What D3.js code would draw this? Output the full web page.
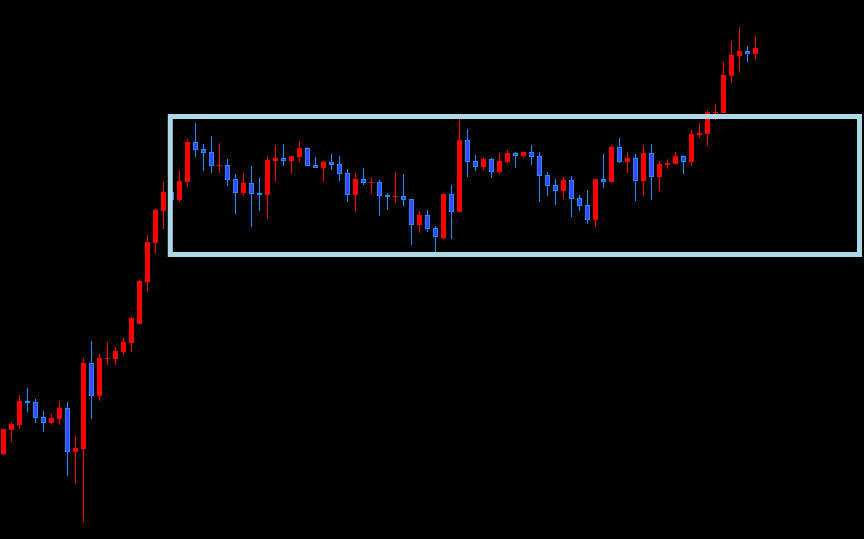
<!DOCTYPE html>
<html><head><meta charset="utf-8">
<script src="https://cdn.jsdelivr.net/npm/d3@7/dist/d3.min.js"></script>
<style>html,body{margin:0;padding:0;background:#000;overflow:hidden}svg{display:block}</style>
</head><body>
<script>
const opens  = [86,110,115,139,138,123,117,121,132,88,91,177,144,181,181,188,197,216,258,297,329,348,340,358,398,391,388,374,375,361,347,357,347,345,379,382,379,383,392,375,372,378,376,367,345,361,357,358,345,343,344,341,315,325,312,302,346,328,400,379,373,381,368,378,387,384,388,384,365,355,349,360,342,335,320,361,358,393,378,382,359,387,363,375,376,384,378,405,406,427,427,464,484,489,486];
const highs  = [111,118,145,152,141,129,126,139,138,104,182,199,186,198,193,202,223,261,305,331,358,351,370,401,417,396,404,397,381,366,367,374,362,384,395,396,384,399,393,383,379,386,384,371,367,372,362,360,347,368,366,341,329,330,314,346,355,422,411,385,383,382,387,390,388,388,395,388,368,361,363,364,345,350,361,386,395,402,388,386,395,396,379,381,388,385,410,417,430,436,478,499,513,494,504];
const lows   = [85,98,111,128,117,108,115,115,64,56,18,121,139,175,175,185,188,216,248,286,311,337,338,353,383,369,367,367,354,326,344,313,329,321,358,374,366,378,374,372,358,370,359,338,328,355,346,324,330,337,334,295,307,308,287,301,301,328,363,369,370,362,366,377,372,382,375,338,344,335,341,323,329,316,313,352,358,377,367,339,344,340,349,371,376,366,374,402,394,420,427,457,467,478,480];
const closes = [111,116,139,137,122,117,122,132,88,92,177,144,182,182,189,198,222,259,298,330,348,340,359,398,390,387,374,375,360,347,357,346,346,380,382,379,384,392,374,372,378,375,366,345,361,357,358,344,343,344,340,315,325,311,303,346,328,400,378,373,381,368,379,387,384,388,383,364,354,349,360,341,334,320,361,358,393,378,382,359,387,363,376,377,384,378,406,407,428,428,465,485,489,486,492];
const rangeBox = {startIndex: 20.85, endIndex: 107, top: 423.5, bottom: 285.5};

const W = 864, H = 539;
const svg = d3.select("body").append("svg").attr("width", W).attr("height", H);
svg.append("rect").attr("width", W).attr("height", H).attr("fill", "#000");

const n = opens.length;
const x = d3.scaleLinear().domain([0, n - 1]).range([3.5, 3.5 + 8 * (n - 1)]);
const y = d3.scaleLinear().domain([0, 540]).range([540, 0]);

const data = d3.range(n).map(i => ({i, o: opens[i], h: highs[i], l: lows[i], c: closes[i], up: closes[i] >= opens[i]}));
const RED = "#ff0000", BLUE_LINE = "#1e90ff", BLUE_FILL = "#4040ff";

const g = svg.append("g");
g.selectAll("line.wick").data(data).join("line")
  .attr("x1", d => x(d.i)).attr("x2", d => x(d.i))
  .attr("y1", d => y(d.h)).attr("y2", d => y(d.l))
  .attr("stroke", d => d.up ? RED : BLUE_LINE).attr("stroke-width", 1);

g.selectAll("rect.up").data(data.filter(d => d.up)).join("rect")
  .attr("x", d => x(d.i) - 2.5).attr("width", 5)
  .attr("y", d => y(d.c)).attr("height", d => Math.max(1, y(d.o) - y(d.c)))
  .attr("fill", RED);

g.selectAll("rect.down").data(data.filter(d => !d.up)).join("rect")
  .attr("x", d => x(d.i) - 2).attr("width", 4)
  .attr("y", d => y(d.o) + 0.5).attr("height", d => Math.max(1, y(d.c) - y(d.o) - 1))
  .attr("fill", BLUE_FILL).attr("stroke", BLUE_LINE).attr("stroke-width", 1);

svg.append("rect")
  .attr("x", x(rangeBox.startIndex)).attr("y", y(rangeBox.top))
  .attr("width", x(rangeBox.endIndex) - x(rangeBox.startIndex))
  .attr("height", y(rangeBox.bottom) - y(rangeBox.top))
  .attr("fill", "none").attr("stroke", "#add8e6").attr("stroke-width", 5);
</script>
</body></html>
